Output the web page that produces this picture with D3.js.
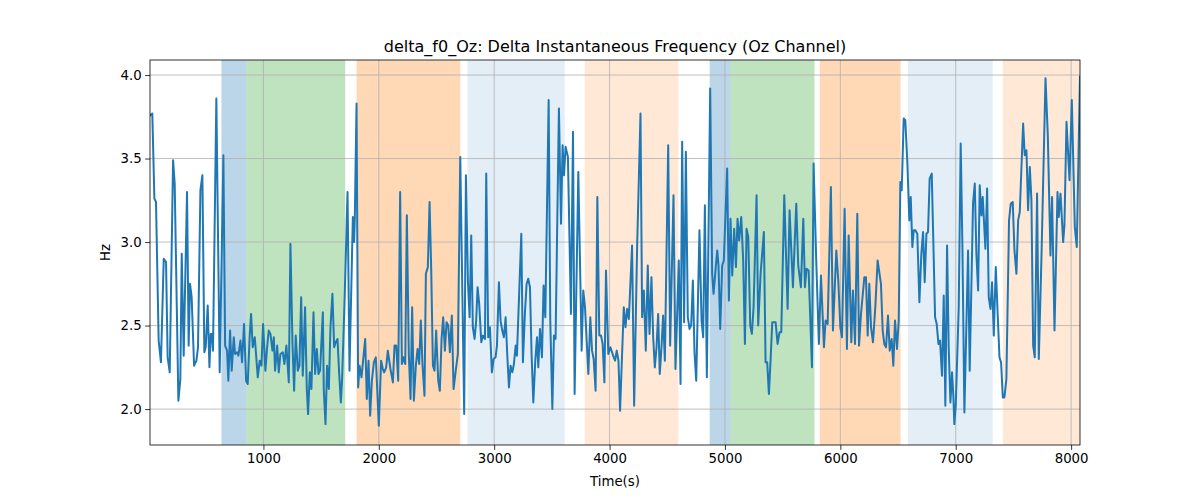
<!DOCTYPE html>
<html>
<head>
<meta charset="utf-8">
<script src="https://cdn.jsdelivr.net/npm/d3@7"></script>
<style>
body{margin:0;background:#fff;}
svg{font-family:"DejaVu Sans",sans-serif;}
</style>
</head>
<body>
<svg id="chart" width="1200" height="500"></svg>
<script>
const titleText = "delta_f0_Oz: Delta Instantaneous Frequency (Oz Channel)";
const xLabel = "Time(s)";
const yLabel = "Hz";
const xTicks = [1000,2000,3000,4000,5000,6000,7000,8000];
const yTicks = [2.0,2.5,3.0,3.5,4.0];
const xLimits = [17, 8077];
const yLimits = [1.785, 4.09];

// shaded segments: [start, end, kind]
const spanStart = [636, 853, 1807, 2769, 3784, 4868, 5050, 5822, 6585, 7409];
const spanEnd   = [853, 1709, 2706, 3611, 4596, 5050, 5776, 6522, 7320, 8077];
const spanKind  = ["blue","green","orange","lightblue","lightorange","blue","green","orange","lightblue","lightorange"];

const times = [20,37,55,69,92,112,136,156,170,188,217,231,263,280,292,309,338,352,364,378,399,419,433,454,471,488,500,517,532,543,552,563,592,621,653,668,685,696,711,725,743,754,772,783,801,815,832,850,864,881,893,907,925,951,968,983,997,1017,1032,1046,1061,1078,1090,1101,1119,1133,1147,1168,1182,1199,1220,1234,1252,1266,1280,1298,1312,1327,1341,1361,1376,1387,1402,1416,1434,1448,1463,1477,1491,1515,1523,1538,1552,1567,1581,1598,1613,1627,1642,1656,1671,1682,1705,1729,1746,1775,1786,1792,1807,1821,1833,1850,1882,1896,1911,1925,1940,1957,1974,2000,
2020,2035,2046,2064,2078,2101,2122,2136,2151,2168,2185,2200,2214,2229,2243,2260,2275,2289,2304,2321,2336,2350,2364,2379,2396,2408,2425,2440,2454,2469,2483,2497,2515,2529,2544,2558,2573,2587,2602,2616,2633,2648,2665,2685,2706,2740,2755,2772,2787,2801,2815,2830,2844,2856,2870,2888,2902,2920,2931,2948,2963,2980,2995,3012,3024,3041,3055,3070,3084,3099,3113,3128,3142,3157,3171,3186,3197,3235,3249,3266,3281,3295,3310,3324,3339,3356,3371,3382,3397,3414,3428,3443,3472,3486,3504,3518,3532,3561,3579,3593,3605,3619,3639,3665,3683,3697,3729,3758,3772,3787,3816,3833,3848,3862,3879,3894,3911,3926,3940,3955,3969,3989,4007,
4036,4048,4062,4077,4091,4123,4138,4152,4167,4195,4213,4239,4268,4282,4297,4314,4331,4346,4363,4378,4392,4407,4421,4435,4450,4464,4479,4508,4525,4554,4571,4600,4615,4629,4646,4661,4678,4693,4707,4722,4736,4751,4779,4797,4811,4826,4843,4872,4889,4901,4918,4933,4944,4959,4976,4990,5019,5034,5048,5063,5080,5095,5109,5123,5141,5158,5173,5187,5202,5219,5233,5248,5274,5288,5309,5337,5352,5366,5381,5395,5410,5439,5456,5473,5488,5514,5543,5560,5589,5618,5635,5658,5679,5693,5707,5725,5754,5768,5791,5814,5832,5858,5872,5890,5918,5936,5965,5982,6000,6014,6037,
6057,6072,6095,6109,6127,6147,6162,6179,6208,6222,6237,6251,6266,6283,6303,6323,6352,6367,6381,6396,6413,6428,6445,6459,6474,6491,6506,6520,6532,6549,6563,6581,6598,6610,6624,6636,6650,6667,6685,6702,6717,6731,6746,6760,6774,6792,6806,6821,6835,6850,6864,6881,6896,6910,6925,6939,6954,6968,6980,6988,7000,7026,7043,7058,7075,7107,7121,7150,7165,7179,7194,7208,7223,7234,7257,7272,7286,7301,7315,7330,7347,7364,7379,7393,7408,7422,7439,7462,7477,7494,7509,7526,7541,7555,7584,7598,7613,7627,7642,7656,7671,7685,7705,7720,7743,7778,7798,7821,7835,7856,7882,7893,7908,7931,7942,7960,7986,8006,8032,8049,8077];

const values = [3.76,3.77,3.26,3.24,2.41,2.28,2.90,2.88,2.31,2.22,3.49,3.35,2.05,2.18,2.93,2.32,3.30,2.38,2.75,2.67,2.26,2.29,2.37,3.31,3.40,2.34,2.37,2.62,2.25,2.45,2.45,2.35,3.86,2.22,3.52,2.38,2.35,2.17,2.47,2.23,2.43,2.33,2.34,2.32,2.41,2.28,2.51,2.17,2.15,2.44,2.57,2.37,2.43,2.19,2.29,2.26,2.51,2.23,2.37,2.47,2.45,2.35,2.43,2.23,2.38,2.22,2.33,2.34,2.27,2.38,2.16,2.99,2.39,2.11,2.44,2.23,2.26,2.67,2.20,2.61,2.12,1.97,2.22,2.12,2.58,2.21,2.36,2.21,2.23,2.58,2.12,1.91,2.26,2.12,2.49,2.69,2.37,2.40,2.42,2.22,2.04,2.18,2.69,3.30,2.23,3.15,3.00,3.14,3.83,2.13,2.26,2.19,2.42,2.06,2.29,1.96,2.17,2.28,2.31,1.90,
2.29,2.24,2.22,2.25,2.35,2.24,2.16,2.38,2.38,2.17,3.30,2.27,2.31,2.27,3.16,2.33,2.06,2.61,2.05,2.26,2.36,2.27,2.53,2.26,2.08,2.81,2.85,3.24,2.84,2.26,2.23,2.47,2.17,2.11,2.42,2.55,2.35,2.52,2.50,2.34,2.56,2.12,2.22,2.33,3.51,1.97,3.40,2.77,2.55,3.04,2.49,2.42,2.53,2.73,2.63,2.40,2.44,2.42,3.41,2.43,2.49,2.22,2.30,2.31,2.38,2.76,2.53,2.47,2.43,2.55,2.33,2.13,2.26,2.22,2.27,2.38,2.32,3.05,2.28,2.57,2.75,2.78,2.73,2.33,2.04,2.29,2.43,2.25,2.48,2.31,2.74,2.55,3.85,2.53,2.00,2.44,2.42,3.80,3.11,3.58,3.40,3.57,3.51,2.57,3.66,2.09,3.42,2.35,2.71,2.61,2.21,2.55,2.35,2.30,2.11,3.27,2.44,2.44,2.39,2.16,2.83,2.33,2.37,
2.31,2.29,2.35,2.29,1.99,2.61,2.49,2.60,2.54,2.98,2.02,2.98,3.77,2.55,2.71,2.35,2.86,2.45,2.79,2.43,2.25,2.37,2.57,2.21,2.37,2.56,2.29,3.58,2.38,3.28,2.24,2.89,2.15,3.60,2.52,3.54,2.55,2.48,2.50,2.77,2.34,2.17,3.07,2.53,2.43,3.22,2.19,3.92,2.81,2.69,2.83,2.95,2.86,2.48,2.86,2.89,3.44,2.65,3.14,2.80,3.08,2.85,3.14,3.01,3.15,2.89,2.39,3.08,3.03,2.50,2.45,2.61,3.28,2.50,2.81,3.06,2.28,2.28,2.09,2.29,2.52,2.52,2.39,2.46,2.46,3.28,2.60,3.19,2.73,3.23,2.86,2.73,3.14,2.73,2.84,2.83,2.25,3.47,2.89,2.39,2.80,2.37,2.53,2.51,3.33,2.47,2.95,2.77,2.49,2.43,3.20,
2.36,3.04,2.40,2.71,2.39,3.17,2.38,2.57,2.79,2.79,2.44,2.75,2.49,2.40,2.61,2.89,2.75,2.47,2.39,2.37,2.56,2.35,2.42,2.26,2.53,2.36,2.53,3.36,3.31,3.74,3.73,3.47,3.13,3.27,2.97,3.07,3.07,3.05,2.64,2.93,3.06,2.76,3.05,3.06,3.38,3.41,3.00,2.55,2.51,2.39,2.41,2.20,2.68,2.02,2.98,2.37,2.04,2.22,2.07,1.91,2.02,2.61,3.59,2.97,1.98,2.95,2.23,3.23,3.35,2.93,2.71,3.34,3.16,3.27,2.96,3.32,2.67,2.60,2.76,2.44,2.85,2.56,2.31,2.28,2.07,2.07,2.18,3.13,3.23,3.24,2.95,2.81,3.13,3.18,3.71,3.52,3.55,3.19,3.45,3.25,2.38,2.31,3.29,2.30,2.91,3.98,3.64,2.92,3.27,2.47,3.30,3.15,3.29,3.00,3.10,3.72,3.37,3.85,3.09,2.97,3.99];

const spanColors = {
  blue: "rgba(31,119,180,0.3)",
  green: "rgba(44,160,44,0.3)",
  orange: "rgba(255,127,14,0.3)",
  lightblue: "rgba(31,119,180,0.12)",
  lightorange: "rgba(255,127,14,0.17)"
};

const margin = {left:150, right:120, top:60, bottom:55};
const W = 1200, H = 500;
const svg = d3.select("#chart");
const x = d3.scaleLinear().domain(xLimits).range([margin.left, W - margin.right]);
const y = d3.scaleLinear().domain(yLimits).range([H - margin.bottom, margin.top]);

const clipId = "plotclip";
svg.append("defs").append("clipPath").attr("id", clipId)
  .append("rect").attr("x", margin.left).attr("y", margin.top)
  .attr("width", W - margin.left - margin.right).attr("height", H - margin.top - margin.bottom);

const plot = svg.append("g").attr("clip-path", `url(#${clipId})`);

// spans
plot.selectAll("rect.span").data(spanStart.map((s,i)=>({s, e: spanEnd[i], k: spanKind[i]})))
  .enter().append("rect").attr("class","span")
  .attr("x", d => x(d.s)).attr("width", d => x(d.e) - x(d.s))
  .attr("y", margin.top).attr("height", H - margin.top - margin.bottom)
  .attr("fill", d => spanColors[d.k]);

// grid
plot.selectAll("line.gx").data(xTicks).enter().append("line")
  .attr("x1", d => x(d)).attr("x2", d => x(d))
  .attr("y1", margin.top).attr("y2", H - margin.bottom)
  .attr("stroke", "#b0b0b0").attr("stroke-width", 0.8);
plot.selectAll("line.gy").data(yTicks).enter().append("line")
  .attr("y1", d => y(d)).attr("y2", d => y(d))
  .attr("x1", margin.left).attr("x2", W - margin.right)
  .attr("stroke", "#b0b0b0").attr("stroke-width", 0.8);

// line
const pts = times.map((t,i)=>[t, values[i]]);
plot.append("path").datum(pts)
  .attr("fill","none").attr("stroke","#1f77b4").attr("stroke-width",2)
  .attr("stroke-linejoin","round").attr("stroke-linecap","square")
  .attr("d", d3.line().x(d=>x(d[0])).y(d=>y(d[1])));

// axes
const xAxis = d3.axisBottom(x).tickValues(xTicks).tickSize(4.9).tickPadding(3.5).tickFormat(d3.format("d"));
const yAxis = d3.axisLeft(y).tickValues(yTicks).tickSize(4.9).tickPadding(3.5).tickFormat(d3.format(".1f"));
const gx = svg.append("g").attr("transform", `translate(0,${H - margin.bottom})`).call(xAxis);
const gy = svg.append("g").attr("transform", `translate(${margin.left},0)`).call(yAxis);
[gx, gy].forEach(g => {
  g.select(".domain").remove();
  g.selectAll(".tick line").attr("stroke","#000").attr("stroke-width",0.8);
  g.selectAll(".tick text").attr("fill","#000").style("font-size","13.3px").style("font-family","DejaVu Sans");
});

// frame
svg.append("rect").attr("x", margin.left).attr("y", margin.top)
  .attr("width", W - margin.left - margin.right).attr("height", H - margin.top - margin.bottom)
  .attr("fill","none").attr("stroke","#000").attr("stroke-width",0.8);

// texts
svg.append("text").attr("x", (margin.left + W - margin.right)/2).attr("y", 52)
  .attr("text-anchor","middle").style("font-size","16px").text(titleText);
svg.append("text").attr("x", (margin.left + W - margin.right)/2).attr("y", 486)
  .attr("text-anchor","middle").style("font-size","13.3px").text(xLabel);
svg.append("text").attr("transform", `translate(110,${(margin.top + H - margin.bottom)/2}) rotate(-90)`)
  .attr("text-anchor","middle").style("font-size","13.3px").text(yLabel);
</script>
</body>
</html>
